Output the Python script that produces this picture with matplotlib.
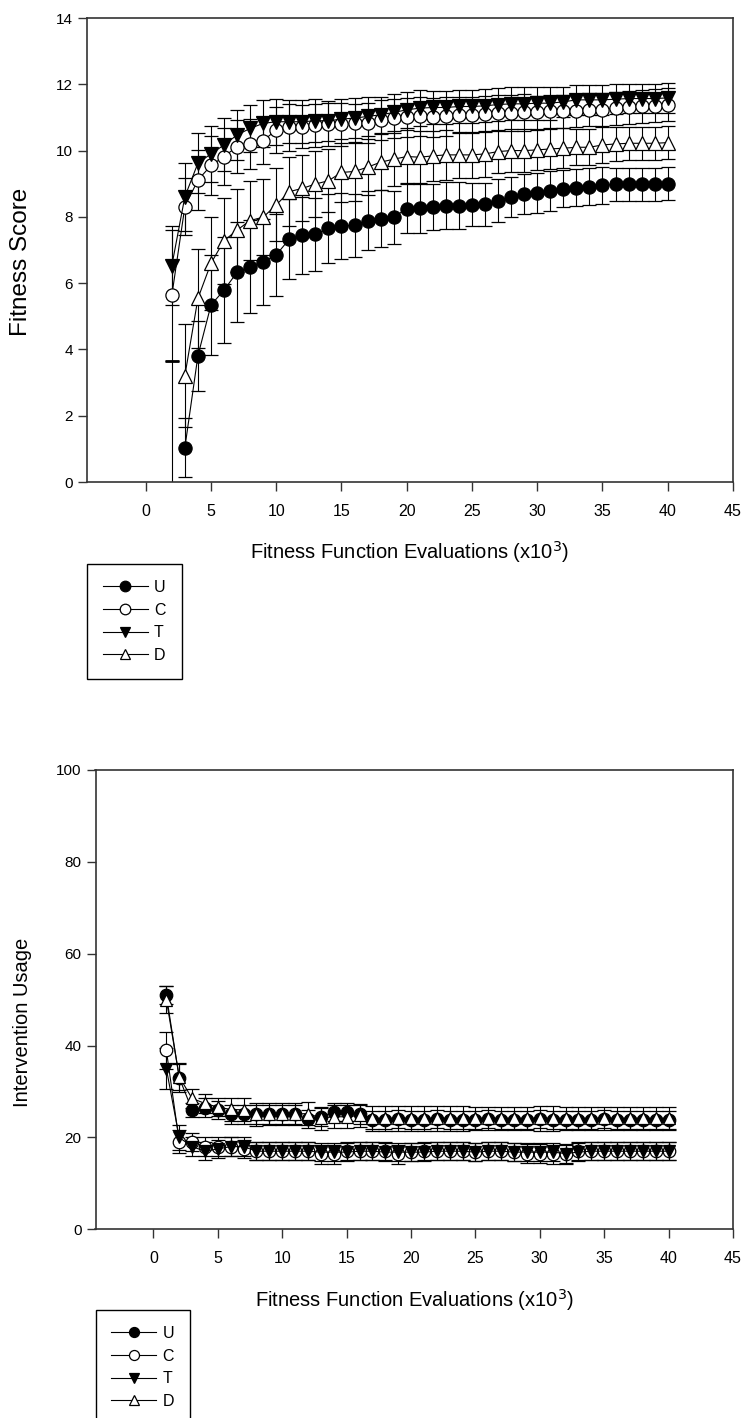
import numpy as np
import matplotlib.pyplot as plt

plt.rcParams['font.family'] = ['Liberation Sans', 'DejaVu Sans']

labels = ['U', 'C', 'T', 'D']
markers = ['o', 'o', 'v', '^']
faces = ['black', 'white', 'black', 'white']

# top panel: fitness score, evaluations 2..40 (x10^3)
x_top = np.arange(2, 41)
u_top = [np.nan, 1.04, 3.81, 5.34, 5.79, 6.33, 6.5, 6.65, 6.85, 7.33, 7.44, 7.47, 7.65, 7.72, 7.75, 7.89, 7.95, 7.99, 8.25,
         8.26, 8.29, 8.34, 8.34, 8.36, 8.38, 8.48, 8.61, 8.68, 8.71, 8.78, 8.85, 8.88, 8.91, 8.95, 8.98, 8.98, 8.98, 8.98, 9.0]
u_top_err = [np.nan, 0.9, 1.05, 1.5, 1.6, 1.5, 1.4, 1.3, 1.25, 1.2, 1.15, 1.1, 1.05, 1.0, 0.95, 0.9, 0.85, 0.8, 0.75,
             0.75, 0.7, 0.7, 0.7, 0.65, 0.65, 0.65, 0.6, 0.6, 0.6, 0.6, 0.55, 0.55, 0.55, 0.55, 0.5, 0.5, 0.5, 0.5, 0.5]
c_top = [5.63, 8.31, 9.11, 9.55, 9.82, 10.12, 10.2, 10.3, 10.62, 10.7, 10.72, 10.77, 10.8, 10.8, 10.82, 10.84, 10.92, 10.97, 11.0,
         11.03, 11.0, 11.03, 11.08, 11.08, 11.1, 11.13, 11.13, 11.15, 11.15, 11.18, 11.18, 11.2, 11.23, 11.23, 11.28, 11.3, 11.33, 11.35, 11.38]
c_top_err = [1.97, 0.85, 0.9, 0.9, 0.85, 0.8, 0.75, 0.7, 0.7, 0.7, 0.65, 0.65, 0.65, 0.65, 0.6, 0.6, 0.6, 0.6, 0.6,
             0.6, 0.6, 0.6, 0.55, 0.55, 0.55, 0.55, 0.55, 0.55, 0.5, 0.5, 0.5, 0.5, 0.5, 0.5, 0.5, 0.5, 0.5, 0.5, 0.5]
t_top = [6.53, 8.61, 9.62, 9.9, 10.17, 10.47, 10.67, 10.82, 10.87, 10.87, 10.87, 10.9, 10.9, 10.95, 10.98, 11.03, 11.08, 11.15, 11.23,
         11.28, 11.3, 11.3, 11.33, 11.33, 11.35, 11.39, 11.41, 11.41, 11.43, 11.43, 11.47, 11.53, 11.53, 11.53, 11.55, 11.57, 11.57, 11.57, 11.59]
t_top_err = [1.2, 1.03, 0.9, 0.85, 0.8, 0.75, 0.7, 0.7, 0.7, 0.65, 0.65, 0.65, 0.6, 0.6, 0.6, 0.6, 0.55, 0.55, 0.55,
             0.55, 0.5, 0.5, 0.5, 0.5, 0.5, 0.5, 0.5, 0.5, 0.5, 0.5, 0.45, 0.45, 0.45, 0.45, 0.45, 0.45, 0.45, 0.45, 0.45]
d_top = [np.nan, 3.21, 5.54, 6.6, 7.28, 7.6, 7.89, 7.99, 8.36, 8.76, 8.86, 8.99, 9.09, 9.34, 9.37, 9.5, 9.65, 9.74, 9.82,
         9.8, 9.84, 9.87, 9.87, 9.87, 9.9, 9.97, 10.0, 10.0, 10.02, 10.05, 10.07, 10.1, 10.1, 10.17, 10.2, 10.22, 10.22, 10.22, 10.24]
d_top_err = [np.nan, 1.55, 1.5, 1.4, 1.3, 1.25, 1.2, 1.15, 1.1, 1.05, 1.0, 1.0, 0.95, 0.9, 0.9, 0.85, 0.85, 0.8, 0.8,
             0.8, 0.75, 0.75, 0.7, 0.7, 0.7, 0.65, 0.65, 0.65, 0.6, 0.6, 0.6, 0.55, 0.55, 0.55, 0.5, 0.5, 0.5, 0.5, 0.5]
# U at 2k evaluations sits below the axis, only its upper error bar shows
u_top_first_x = [2]
u_top_first = [-1.0]
u_top_first_err = [4.66]

# bottom panel: intervention usage, evaluations 1..40 (x10^3)
x_bot = np.arange(1, 41)
u_bot = [51, 33, 26, 26.5, 26, 25, 25, 25, 25, 25, 25, 24, 24.5, 25.5, 25.5, 25, 23.8, 23.8, 24, 23.8,
         23.8, 24, 23.8, 23.8, 23.8, 24, 23.8, 23.8, 23.8, 24, 23.8, 23.8, 23.8, 23.8, 24, 23.8, 23.8, 23.8, 23.8, 23.8]
u_bot_err = [2, 3, 1.5, 2, 2, 2, 2, 2, 2, 2, 2, 2, 2, 2, 2, 2, 2, 2, 2, 2,
             2, 2, 2, 2, 2, 2, 2, 2, 2, 2, 2, 2, 2, 2, 2, 2, 2, 2, 2, 2]
c_bot = [39, 19.1, 19, 18, 18, 18, 17.5, 17, 17, 17, 17, 17, 16.3, 16.3, 17, 17, 17, 17, 16.3, 16.8,
         17, 17, 17, 17, 16.8, 17, 17, 16.8, 16.5, 16.5, 16.3, 16.3, 17, 17, 17, 17, 17, 17, 17, 17]
c_bot_err = [4, 2.5, 2, 2, 2, 2, 2, 2, 2, 2, 2, 2, 2, 2, 2, 2, 2, 2, 2, 2,
             2, 2, 2, 2, 2, 2, 2, 2, 2, 2, 2, 2, 2, 2, 2, 2, 2, 2, 2, 2]
t_bot = [35, 20, 18, 17, 17.5, 18, 18, 17, 17, 17, 17, 17, 16.8, 16.8, 16.8, 17, 17, 16.8, 16.8, 16.8,
         16.8, 17, 17, 17, 16.8, 17, 17, 16.8, 16.8, 16.8, 16.8, 16.5, 16.8, 17, 17, 17, 17, 17, 17, 17]
t_bot_err = [4.5, 2.7, 2, 2, 2, 2, 2, 2, 2, 2, 2, 2, 2, 2, 2, 2, 2, 2, 2, 2,
             2, 2, 2, 2, 2, 2, 2, 2, 2, 2, 2, 2, 2, 2, 2, 2, 2, 2, 2, 2]
d_bot = [50, 33.2, 28.5, 27.4, 26.6, 26.1, 26.0, 25.0, 25.1, 25.1, 25.1, 25.2, 24.2, 24.5, 24.5, 24.8, 24.2, 24.2, 24.2, 24.2,
         24.2, 24.2, 24.2, 24.2, 24.2, 24.2, 24.2, 24.2, 24.2, 24.2, 24.2, 24.2, 24.2, 24.2, 24.2, 24.2, 24.2, 24.2, 24.2, 24.2]
d_bot_err = [3, 2.9, 2, 2, 2, 2.5, 2.5, 2.5, 2.5, 2.5, 2.5, 2.5, 2.5, 2.5, 2.5, 2.5, 2.7, 2.7, 2.7, 2.7,
             2.7, 2.7, 2.7, 2.7, 2.5, 2.5, 2.5, 2.5, 2.5, 2.7, 2.7, 2.5, 2.5, 2.5, 2.5, 2.5, 2.5, 2.5, 2.5, 2.5]


def draw_panel(ax, x, means, errs, ms):
    handles = []
    for m, e, mk, fc in zip(means, errs, markers, faces):
        eb = ax.errorbar(x, m, yerr=e, color='black', lw=0.8, marker=mk, ms=ms, mfc=fc, mec='black',
                         mew=0.9, capsize=4.7, capthick=0.8, elinewidth=0.8)
        handles.append(eb[0])
    ax.set_xlim(-4.5, 45)
    ax.set_xticks(range(0, 50, 5))
    for sp in ax.spines.values():
        sp.set_color('#333333')
        sp.set_linewidth(1.2)
    ax.tick_params(axis='both', direction='out', length=6.5, width=1.0, color='#333333')
    ax.tick_params(axis='x', labelsize=11.5, pad=9)
    ax.tick_params(axis='y', labelsize=11)
    ax.set_xlabel('Fitness Function Evaluations (x10$^3$)', fontsize=14.5, labelpad=15)
    return handles


def add_legend(ax, handles, top_left):
    leg = ax.legend(handles, labels, loc='upper left', bbox_to_anchor=(top_left[0] / W, 1 - top_left[1] / H),
                    bbox_transform=fig.transFigure, fancybox=False, edgecolor='black', framealpha=1,
                    borderaxespad=0, borderpad=1.0, handlelength=2.8, handletextpad=0.4,
                    labelspacing=0.48, fontsize=11.5, markerscale=0.8)
    leg.get_frame().set_linewidth(1.0)


fig = plt.figure(figsize=(7.45, 14.18), dpi=100)
W, H = 745, 1418

ax1 = fig.add_axes([87 / W, 1 - 482 / H, (733 - 87) / W, (482 - 18) / H])
h1 = draw_panel(ax1, x_top, [u_top, c_top, t_top, d_top], [u_top_err, c_top_err, t_top_err, d_top_err], 9.5)
ax1.errorbar(u_top_first_x, u_top_first, yerr=u_top_first_err, fmt='none', ecolor='black',
             elinewidth=0.8, capsize=4.7, capthick=2.0)
ax1.set_ylim(0, 14)
ax1.set_yticks(range(0, 15, 2))
ax1.set_ylabel('Fitness Score', fontsize=17.5)
ax1.yaxis.set_label_coords(-0.085, 0.475)
add_legend(ax1, h1, (87, 564))

ax2 = fig.add_axes([95.5 / W, 1 - 1229.3 / H, (733 - 95.5) / W, (1229.3 - 770) / H])
h2 = draw_panel(ax2, x_bot, [u_bot, c_bot, t_bot, d_bot], [u_bot_err, c_bot_err, t_bot_err, d_bot_err], 9)
ax2.set_ylim(0, 100)
ax2.set_yticks(range(0, 101, 20))
ax2.set_ylabel('Intervention Usage', fontsize=14.5)
ax2.yaxis.set_label_coords(-0.1, 0.45)
add_legend(ax2, h2, (95.5, 1310))

fig.savefig('out.png', dpi=100)
